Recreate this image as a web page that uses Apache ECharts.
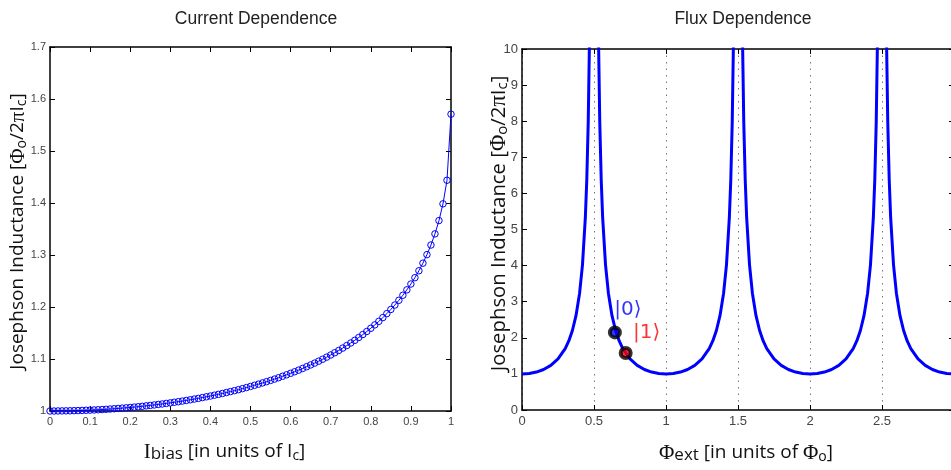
<!DOCTYPE html>
<html><head><meta charset="utf-8">
<script src="https://cdn.jsdelivr.net/npm/echarts@6/dist/echarts.min.js"></script>
<style>html,body{margin:0;padding:0;background:#fff}#c{width:951px;height:470px}</style>
</head><body><div id="c"></div>
<script>
// ---- Left panel: Josephson inductance vs bias current ----
const biasCurrent = [
0,0.01,0.02,0.03,0.04,0.05,0.06,0.07,0.08,0.09,
0.1,0.11,0.12,0.13,0.14,0.15,0.16,0.17,0.18,0.19,
0.2,0.21,0.22,0.23,0.24,0.25,0.26,0.27,0.28,0.29,
0.3,0.31,0.32,0.33,0.34,0.35,0.36,0.37,0.38,0.39,
0.4,0.41,0.42,0.43,0.44,0.45,0.46,0.47,0.48,0.49,
0.5,0.51,0.52,0.53,0.54,0.55,0.56,0.57,0.58,0.59,
0.6,0.61,0.62,0.63,0.64,0.65,0.66,0.67,0.68,0.69,
0.7,0.71,0.72,0.73,0.74,0.75,0.76,0.77,0.78,0.79,
0.8,0.81,0.82,0.83,0.84,0.85,0.86,0.87,0.88,0.89,
0.9,0.91,0.92,0.93,0.94,0.95,0.96,0.97,0.98,0.99,
1];
const inductanceVsBias = [
1.0000,1.0000,1.0001,1.0002,1.0003,1.0004,1.0006,1.0008,1.0011,1.0014,
1.0017,1.0020,1.0024,1.0028,1.0033,1.0038,1.0043,1.0049,1.0055,1.0061,
1.0068,1.0075,1.0082,1.0090,1.0099,1.0107,1.0116,1.0126,1.0135,1.0146,
1.0156,1.0168,1.0179,1.0191,1.0203,1.0216,1.0230,1.0243,1.0258,1.0273,
1.0288,1.0304,1.0320,1.0337,1.0355,1.0373,1.0391,1.0410,1.0430,1.0451,
1.0472,1.0494,1.0516,1.0540,1.0564,1.0588,1.0614,1.0640,1.0668,1.0696,
1.0725,1.0755,1.0786,1.0818,1.0852,1.0886,1.0921,1.0958,1.0996,1.1036,
1.1077,1.1120,1.1164,1.1210,1.1258,1.1308,1.1359,1.1414,1.1470,1.1529,
1.1591,1.1656,1.1724,1.1796,1.1872,1.1953,1.2038,1.2129,1.2226,1.2330,
1.2442,1.2564,1.2697,1.2843,1.3007,1.3192,1.3406,1.3662,1.3984,1.4437,
1.5708];

// ---- Right panel: Josephson inductance vs external flux ----
const fluxExt = [
0,0.05,0.1,0.15,0.2,0.25,0.3,0.325,0.35,0.375,0.4,0.42,0.44,0.45,0.46,0.47,
0.53,0.54,0.55,0.56,0.58,0.6,0.625,0.65,0.675,0.7,0.75,0.8,0.85,0.9,0.95,
1,1.05,1.1,1.15,1.2,1.25,1.3,1.325,1.35,1.375,1.4,1.42,1.44,1.45,1.46,1.47,
1.53,1.54,1.55,1.56,1.58,1.6,1.625,1.65,1.675,1.7,1.75,1.8,1.85,1.9,1.95,
2,2.05,2.1,2.15,2.2,2.25,2.3,2.325,2.35,2.375,2.4,2.42,2.44,2.45,2.46,2.47,
2.53,2.54,2.55,2.56,2.58,2.6,2.625,2.65,2.675,2.7,2.75,2.8,2.85,2.9,2.95,3];
const inductanceVsFlux = [
1,1.0125,1.0515,1.1223,1.2361,1.4142,1.7013,1.9139,2.2027,2.6131,3.2361,4.0211,5.3367,6.3925,7.9787,10.626,
10.626,7.9787,6.3925,5.3367,4.0211,3.2361,2.6131,2.2027,1.9139,1.7013,1.4142,1.2361,1.1223,1.0515,1.0125,
1,1.0125,1.0515,1.1223,1.2361,1.4142,1.7013,1.9139,2.2027,2.6131,3.2361,4.0211,5.3367,6.3925,7.9787,10.626,
10.626,7.9787,6.3925,5.3367,4.0211,3.2361,2.6131,2.2027,1.9139,1.7013,1.4142,1.2361,1.1223,1.0515,1.0125,
1,1.0125,1.0515,1.1223,1.2361,1.4142,1.7013,1.9139,2.2027,2.6131,3.2361,4.0211,5.3367,6.3925,7.9787,10.626,
10.626,7.9787,6.3925,5.3367,4.0211,3.2361,2.6131,2.2027,1.9139,1.7013,1.4142,1.2361,1.1223,1.0515,1.0125,1];

// qubit states marked on the flux curve
const stateLabels = ['|0\u27E9', '|1\u27E9'];
const stateFlux = [0.645, 0.72];
const stateInductance = [2.15, 1.58];

const titles = ['Current Dependence', 'Flux Dependence'];

const tickFontL = {color:'#444', fontSize:11, fontFamily:'Liberation Sans'};
const tickFontR = {color:'#444', fontSize:13, fontFamily:'Liberation Sans'};
function makeRich(s) {
  return {
    n:   {fontFamily:'Open Sans', fontSize:19*s, color:'#111', lineHeight:22},
    ser: {fontFamily:'Liberation Serif', fontSize:21*s, color:'#111', lineHeight:22},
    sb:  {fontFamily:'Open Sans', fontSize:17*s, color:'#111', lineHeight:12, verticalAlign:'bottom'},
    sub: {fontFamily:'Open Sans', fontSize:14*s, color:'#111', lineHeight:12, verticalAlign:'bottom'}
  };
}
const yName = '{n|Josephson Inductance [}{ser|\u03A6}{sub|o}{n|/2}{ser|\u03C0}{n|I}{sub|c}{n|]}';
const xNameLeft = '{ser|I}{sb|bias}{n| [in units of I}{sub|c}{n|]}';
const xNameRight = '{ser|\u03A6}{sb|ext}{n| [in units of }{ser|\u03A6}{sub|o}{n|]}';

const frameLine = {show:true, onZero:false, lineStyle:{color:'#000', width:1.5}};
const tickIn = {show:true, inside:true, length:5, lineStyle:{color:'#000', width:1}};

function mainX(grid, min, max, interval, name, split, font, pad, gap) {
  return {gridIndex:grid, type:'value', min, max, interval, position:'bottom',
    axisLine:frameLine, axisTick:tickIn,
    axisLabel:Object.assign({margin:5}, font),
    splitLine: split ? {show:true, lineStyle:{color:'#777', width:1, type:[1.5,5]}} : {show:false},
    name, nameLocation:'middle', nameGap:gap, nameMoveOverlap:false,
    nameTextStyle:{rich:makeRich(1), padding:pad}};
}
function sideAxis(grid, min, max, interval, pos) {
  return {gridIndex:grid, type:'value', min, max, interval, position:pos,
    axisLine:frameLine, axisTick:tickIn, axisLabel:{show:false}, splitLine:{show:false}};
}
function mainY(grid, min, max, interval, gap, font, scale, pad) {
  return {gridIndex:grid, type:'value', min, max, interval, position:'left',
    axisLine:frameLine, axisTick:tickIn,
    axisLabel:Object.assign({margin:4}, font),
    splitLine:{show:false},
    name:yName, nameLocation:'middle', nameRotate:90, nameGap:gap, nameMoveOverlap:false,
    nameTextStyle:{rich:makeRich(scale), padding:pad}};
}

const option = {
  animation:false,
  backgroundColor:'#fff',
  title:[
    {text:titles[0], left:251, top:5, textAlign:'center',
     textStyle:{fontSize:17.5, fontWeight:'normal', color:'#222', fontFamily:'Liberation Sans'}},
    {text:titles[1], left:738, top:5, textAlign:'center',
     textStyle:{fontSize:17.5, fontWeight:'normal', color:'#222', fontFamily:'Liberation Sans'}}
  ],
  grid:[
    {left:50, top:47, width:401, height:364, outerBoundsMode:'none', containLabel:false},
    {left:522, top:49, width:432, height:361, outerBoundsMode:'none', containLabel:false}
  ],
  xAxis:[
    mainX(0, 0, 1, 0.1, xNameLeft, false, tickFontL, [0,52,0,0], 30),
    sideAxis(0, 0, 1, 0.1, 'top'),
    mainX(1, 0, 3, 0.5, xNameRight, true, tickFontR, [0,0,0,16], 32),
    sideAxis(1, 0, 3, 0.5, 'top')
  ],
  yAxis:[
    mainY(0, 1, 1.7, 0.1, 21, tickFontL, 1, [0,5,0,0]),
    sideAxis(0, 1, 1.7, 0.1, 'right'),
    mainY(1, 0, 10, 1, 12, tickFontR, 1.07, [0,0,0,12]),
    sideAxis(1, 0, 10, 1, 'right')
  ],
  series:[
    {type:'line', xAxisIndex:0, yAxisIndex:0,
     data: biasCurrent.map((x,i)=>[x, inductanceVsBias[i]]),
     symbol:'circle', symbolSize:6.5, showSymbol:true, showAllSymbol:true,
     lineStyle:{color:'#0000ff', width:1},
     itemStyle:{color:'rgba(0,0,0,0)', borderColor:'#0000ff', borderWidth:1}},
    {type:'line', xAxisIndex:2, yAxisIndex:2,
     data: fluxExt.map((x,i)=>[x, inductanceVsFlux[i]]),
     showSymbol:false, lineStyle:{color:'#0000ff', width:3}},
    {type:'scatter', xAxisIndex:2, yAxisIndex:2, z:5,
     symbolSize:10,
     itemStyle:{borderColor:'#000', borderWidth:4},
     data:[
       {value:[stateFlux[0], stateInductance[0]], itemStyle:{color:'#0000ff'},
        label:{show:true, formatter:stateLabels[0], color:'#0000ff', position:'inside', offset:[13,-23]}},
       {value:[stateFlux[1], stateInductance[1]], itemStyle:{color:'#ff0000'},
        label:{show:true, formatter:stateLabels[1], color:'#ff0000', position:'inside', offset:[21,-20]}}
     ],
     label:{fontSize:20, fontFamily:'DejaVu Sans', align:'center', verticalAlign:'middle'}}
  ]
};
const chart = echarts.init(document.getElementById('c'), null, {renderer:'canvas'});
chart.setOption(option);
</script>
</body></html>
